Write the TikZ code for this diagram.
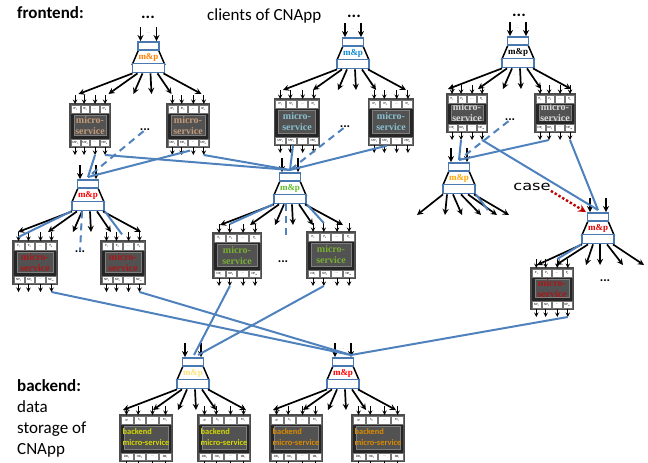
\documentclass[tikz,border=0pt]{standalone}
\usepackage{fontspec}
\setmainfont{Carlito}
\newfontfamily\msfont{Liberation Serif}
\newfontfamily\casefont{DejaVu Sans}
\usetikzlibrary{arrows}
\definecolor{boxblue}{HTML}{4A78B0}
\definecolor{linkblue}{HTML}{4F81BD}
\definecolor{msred}{HTML}{A81818}
\definecolor{msgreen}{HTML}{78AE32}
\definecolor{mstan}{HTML}{C49A78}
\definecolor{mscyan}{HTML}{88C0D0}
\definecolor{backyellow}{HTML}{D4D800}
\definecolor{backorange}{HTML}{DC8A00}
\newcommand\celldots{...}
\newcommand\portsIP{IP\textsubscript{1},IP\textsubscript{2},\celldots,IP\textsubscript{k}}
\newcommand\portsMP{MP\textsubscript{1},MP\textsubscript{2},\celldots,MP\textsubscript{k}}
\newcommand\portsP{P\textsubscript{1},P\textsubscript{2},\celldots,P\textsubscript{k}}
\newcommand\portsNP{NP\textsubscript{1},NP\textsubscript{2},\celldots,NP\textsubscript{m}}
\newcommand\portsBI{IP,S\textsubscript{2},\celldots,M\textsubscript{1}}
\newcommand\portsDB{DB\textsubscript{1},HD\textsubscript{2},\celldots,DB\textsubscript{l}}
\newcommand\microtext{micro-\\service}
\newcommand\backtext{\normalfont\bfseries\fontsize{8.4}{11}\selectfont\begin{tabular}{@{}l@{}}backend\\micro-service\end{tabular}}
\newcommand\mandp[5][-16/-70,-11/-40,-6/-15,2/3,9/23,15/53]{
	\draw[gwside] (#3-10,#4+8) -- (#3-16,#4+22) -- (#3+16,#4+22) -- (#3+10,#4+8) -- cycle;
	\node[gwbox,minimum width=21pt,minimum height=8pt] (#2) at (#3,#4+4) {};
	\node[gwbox,minimum width=32pt,minimum height=9pt] (#2-low) at (#3,#4+26) {};
	\node[gwtext,text=#5] (#2-txt) at (#3,#4+15) {m\&p};
	\coordinate (#2-t) at (#3,#4-3);
	\coordinate (#2-in1) at (#3-8,#4-15);
	\coordinate (#2-in2) at (#3+8,#4-15);
	\draw[flow] (#2-in1) -- ([xshift=-8pt]#2.north);
	\draw[flow] (#2-in2) -- ([xshift=8pt]#2.north);
	\node[tinydots] (#2-d1) at (#3,#4-9) {...};
	\node[tinydots] (#2-d2) at (#3-28,#4+40) {...};
	\node[tinydots] (#2-d3) at (#3-4,#4+38) {...};
	\node[tinydots] (#2-d4) at (#3+24,#4+40) {...};
	\foreach \s/\e [count=\k] in {#1}{
		\coordinate (#2-a\k) at (#3+\e,#4+52);
		\draw[flow] ([xshift=\s pt]#2-low.south) -- (#2-a\k);
	}
}
\newcommand\msvc[9]{
	\node[msbody,minimum width=#4 pt,minimum height=#5 pt] (#1) at (#2,#3+#5/2) {};
	\node[msinner,minimum width=#4 pt-8pt,minimum height=#5 pt-23pt] (#1-in) at (#2,#3+#5/2) {};
	\node[mstext,text=#7] (#1-txt) at (#2,#3+#5/2) {#6};
	\pgfmathsetmacro\cw{(#4-5)/4}
	\foreach \lab [count=\k] in #8{
		\node[mscell,minimum width=\cw pt] (#1-p\k) at (#2+\k*\cw+\k-2.5*\cw-2.5,#3+5) {\lab};
	}
	\foreach \lab [count=\k] in #9{
		\node[mscell,minimum width=\cw pt] (#1-q\k) at (#2+\k*\cw+\k-2.5*\cw-2.5,#3+#5-4.5) {\lab};
	}
	\foreach \s [count=\k] in {-.75,-.3,.25,.75}{
		\coordinate (#1-i\k) at (#2+\s*#4/2,#3-9);
		\coordinate (#1-o\k) at (#2+\s*#4/2,#3+#5+8);
		\draw[portflow] (#1-i\k) -- (#2+\s*#4/2,#3);
		\draw[portflow] (#2+\s*#4/2,#3+#5) -- (#1-o\k);
	}
}
\begin{document}
\begin{tikzpicture}[x=1pt,y=-1pt]
			\tikzstyle{gwbox}=[rectangle,draw=boxblue,fill=white,line width=1.8pt,inner sep=0pt]
			\tikzstyle{gwside}=[draw=black,fill=white,line width=1.5pt]
			\tikzstyle{gwtext}=[font=\msfont\bfseries\fontsize{9}{9}\selectfont,inner sep=0pt]
			\tikzstyle{flow}=[-stealth,line width=1.7pt,black]
			\tikzstyle{portflow}=[-stealth,line width=1pt,black]
			\tikzstyle{tinydots}=[font=\fontsize{3.5}{4}\selectfont,text=gray,inner sep=0pt]
			\tikzstyle{msbody}=[rectangle,draw=black!70,fill=black!85,line width=1.2pt,inner sep=0pt]
			\tikzstyle{msinner}=[rectangle,draw=black!50,fill=black!68,line width=.7pt,inner sep=0pt]
			\tikzstyle{mstext}=[font=\msfont\bfseries\fontsize{10}{11}\selectfont,align=center,inner sep=0pt]
			\tikzstyle{mscell}=[rectangle,draw=black!55,fill=white,line width=.3pt,inner sep=0pt,minimum height=7.5pt,font=\fontsize{3.2}{3.5}\selectfont]
			\tikzstyle{link}=[draw=linkblue,line width=2pt]
			\tikzstyle{dashlink}=[draw=linkblue,line width=2pt,dash pattern=on 7pt off 5pt]
			\tikzstyle{label}=[font=\fontsize{17}{21}\selectfont,inner sep=0pt,align=left]
			\tikzstyle{middots}=[font=\bfseries\fontsize{13}{13}\selectfont,inner sep=0pt]
			\tikzstyle{topdots}=[font=\bfseries\fontsize{17}{17}\selectfont,inner sep=0pt]
			\useasboundingbox (0,0) rectangle (648,463);

			\node[label,anchor=west] (front) at (17,13) {\bfseries frontend:};
			\node[label,anchor=west] (clients) at (207,16) {clients of CNApp};
			\node[label,anchor=north west] (back) at (17,379) {\bfseries backend:\\data\\storage of\\CNApp};

			\node[topdots] (top1) at (148,17) {...};
			\node[topdots] (top2) at (354,16) {...};
			\node[topdots] (top3) at (519,15) {...};
			\node[middots] (dots1) at (145,130) {...};
			\node[middots] (dots2) at (345,127) {...};
			\node[middots] (dots5) at (510,120) {...};
			\node[middots] (dots3) at (80,252) {...};
			\node[middots] (dots4) at (283,262) {...};
			\node[middots] (dots6) at (605,281) {...};

			\mandp{g1}{148.5}{42}{orange}
			\mandp{g2}{353}{38}{cyan!70!blue}
			\mandp{g3}{518}{37}{black}
			\mandp{g4}{88}{180}{red}
			\mandp{g5}{290}{173}{msgreen!80!green}
			\mandp[-16/-42,-12/-14,-6/3,2/22,9/38,15/50]{g6}{459}{163}{orange!70!yellow}
			\mandp[-16/-61,-10/-42,-5/-12,2/2,9/25,15/46]{g7}{598}{213}{red!85!black}
			\mandp{g8}{193}{358}{yellow!60!orange!50}
			\mandp{g9}{343}{358}{red}

			\msvc{m1}{90}{104}{40}{43}{\microtext}{mstan}{\portsIP}{\portsMP}
			\msvc{m2}{188}{104}{42}{43}{\microtext}{mstan}{\portsIP}{\portsMP}
			\msvc{m3}{297}{99}{45}{46}{\microtext}{mscyan}{\portsIP}{\portsMP}
			\msvc{m4}{391}{99}{45}{46}{\microtext}{mscyan}{\portsIP}{\portsMP}
			\msvc{m5}{467}{94}{40}{38}{\microtext}{white!85!black}{\portsP}{\portsNP}
			\msvc{m6}{555}{94}{40}{38}{\microtext}{white!85!black}{\portsP}{\portsNP}
			\msvc{m7}{237}{233}{48}{45}{\microtext}{msgreen}{\portsP}{\portsNP}
			\msvc{m8}{331}{232}{48}{46}{\microtext}{msgreen}{\portsP}{\portsNP}
			\msvc{m9}{35}{241}{44}{43}{\microtext}{msred}{\portsP}{\portsNP}
			\msvc{m10}{123}{241}{44}{43}{\microtext}{msred}{\portsP}{\portsNP}
			\msvc{m11}{552}{268}{42}{41}{\microtext}{msred}{\portsP}{\portsNP}
			\msvc{b1}{146}{415}{52}{46}{\backtext}{backyellow}{\portsBI}{\portsDB}
			\msvc{b2}{224}{415}{52}{46}{\backtext}{backyellow}{\portsBI}{\portsDB}
			\msvc{b3}{296}{415}{52}{46}{\backtext}{backorange}{\portsBI}{\portsDB}
			\msvc{b4}{378}{415}{52}{46}{\backtext}{backorange}{\portsBI}{\portsDB}

			\draw[link] (m1-o3) -- (g4-t);
			\draw[link] (m1-o4) -- (g5-t);
			\draw[link] ([xshift=2pt,yshift=-3pt]m2.south) -- (g4-t);
			\draw[link] (m2-o4) -- (g5-t);
			\draw[dashlink] (dots1) -- (g4-t);
			\draw[link] ([xshift=-4pt]m3.south) -- (g5-t);
			\draw[link] ([xshift=-4pt]m4.south) -- (g5-t);
			\draw[dashlink] (dots2) -- (g5-t);
			\draw[link] (m5-o2) -- (g6-t);
			\draw[link] (m6-o2) -- (g6-t);
			\draw[dashlink] (dots5) -- (g6-t);
			\draw[link] (m5-o4) -- (g7-t);
			\draw[link] (m6-o4) -- (g7-t);

			\draw[link] (g4-low.south west) -- ([yshift=-5pt]m9-i1);
			\draw[link] (g4-low.south east) -- ([xshift=-1pt,yshift=6pt]m10.north);
			\draw[dashlink] ([xshift=-6pt]g4-low.south) -- (dots3);
			\draw[link] (g5-low.south west) -- (m7-i2);
			\draw[link] (g5-low.south east) -- (m8-i2);
			\coordinate (g5-dash) at (286,240);
			\draw[dashlink] ([xshift=-4pt]g5-low.south) -- (g5-dash);
			\coordinate (g6-blue) at (488,210);
			\draw[link] (g6-low.south east) -- (g6-blue);
			\draw[link] (g7-low.south west) -- (m11-i3);

			\draw[link] (m7-o2) -- ([xshift=1pt]g8-t);
			\draw[link] (m8-o2) -- ([xshift=5pt]g8-t);
			\draw[link] (m9-o4) -- ([xshift=8pt]g9-t);
			\draw[link] (m10-o4) -- ([xshift=8pt]g9-t);
			\draw[link] (m11-o4) -- ([xshift=8pt]g9-t);

			\node[font=\casefont\fontsize{13}{13}\selectfont,inner sep=0pt,xscale=1.25] (case) at (532,187) {case};
			\draw[-stealth,line width=2.4pt,dotted,draw=red!75!black] (case.south east) -- ([xshift=-12pt]g7.north);
\end{tikzpicture}
\end{document}
